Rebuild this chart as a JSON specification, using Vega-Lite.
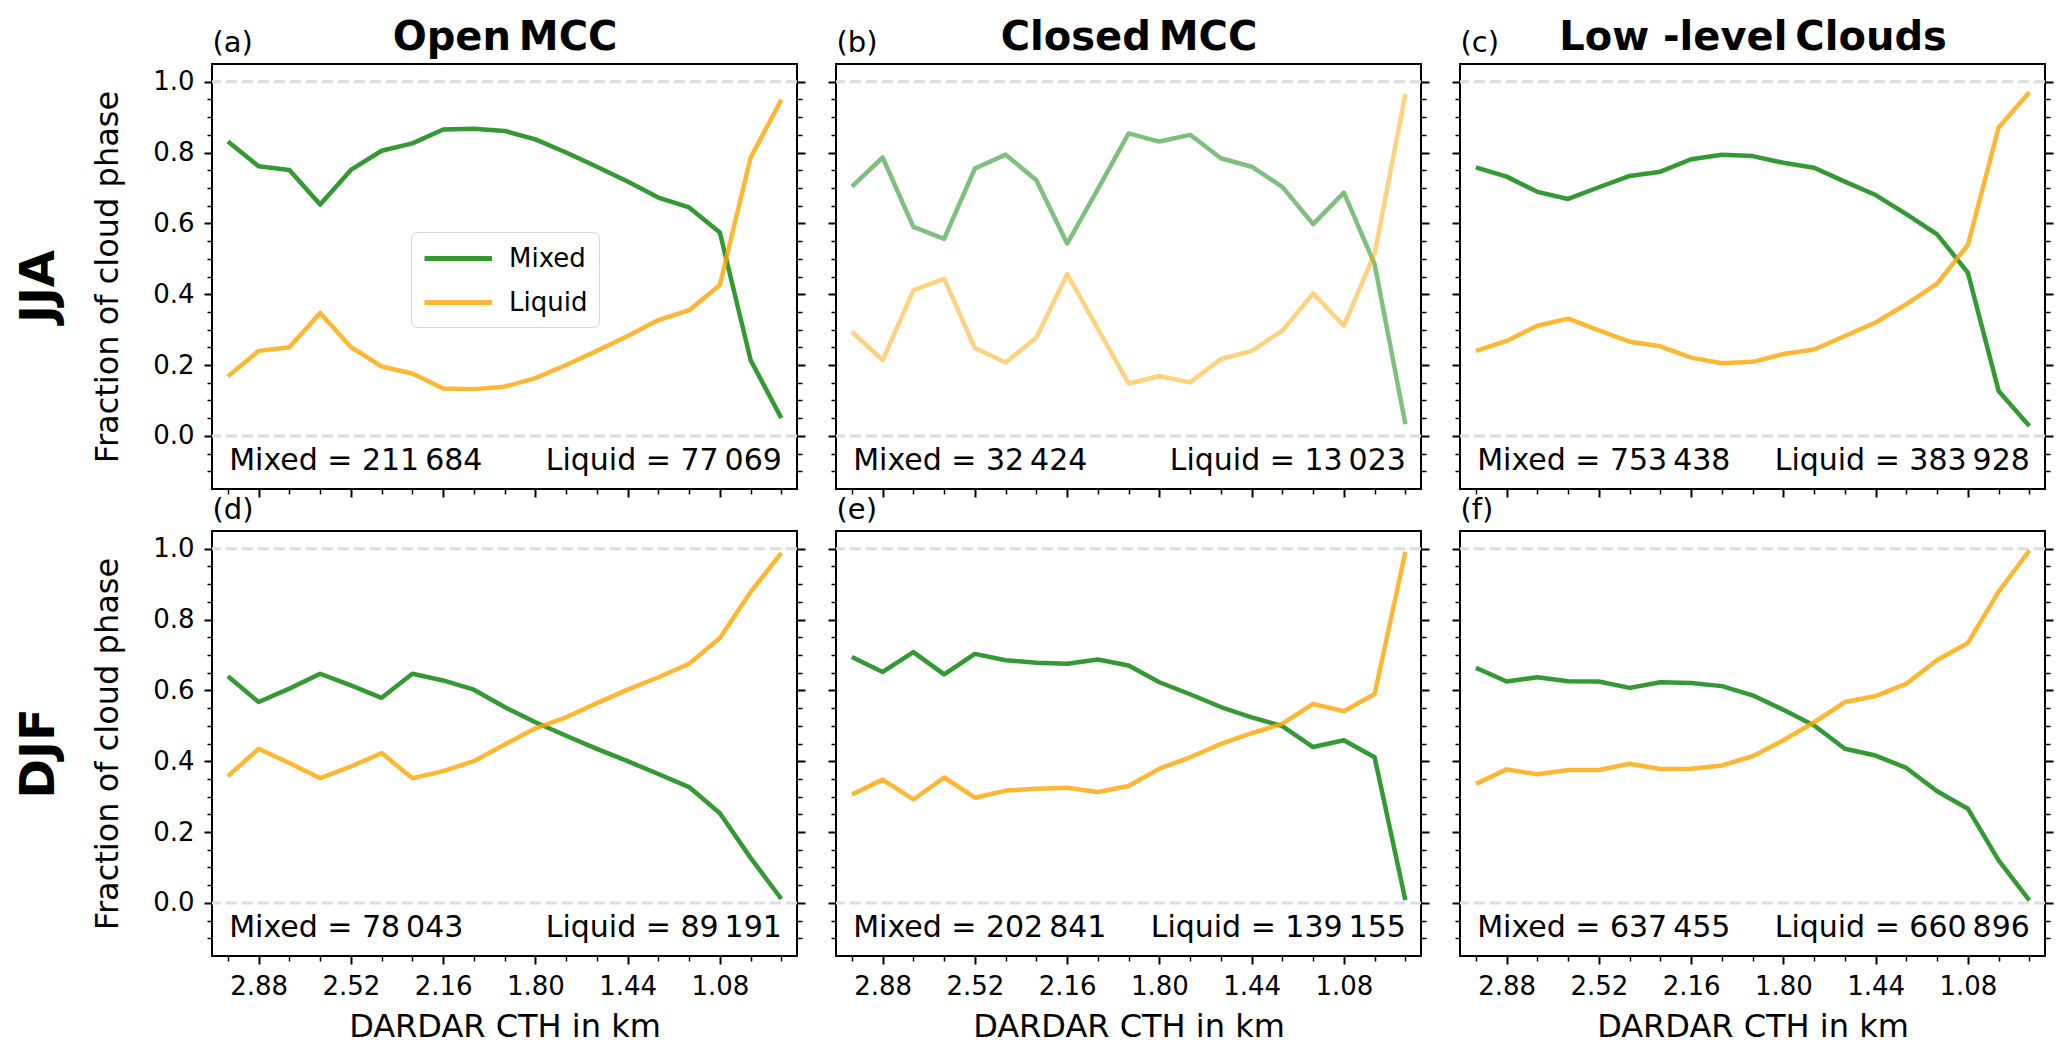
{
  "$schema": "https://vega.github.io/schema/vega-lite/v6.json",
  "background": "white",
  "padding": {"left": 14, "top": 16, "right": 27, "bottom": 10},
  "datasets": {
    "series": [
      {"panel":"a","phase":"Mixed","cth":3.0,"fraction":0.831},{"panel":"a","phase":"Mixed","cth":2.88,"fraction":0.761},{"panel":"a","phase":"Mixed","cth":2.76,"fraction":0.751},{"panel":"a","phase":"Mixed","cth":2.64,"fraction":0.653},{"panel":"a","phase":"Mixed","cth":2.52,"fraction":0.751},{"panel":"a","phase":"Mixed","cth":2.4,"fraction":0.805},{"panel":"a","phase":"Mixed","cth":2.28,"fraction":0.826},{"panel":"a","phase":"Mixed","cth":2.16,"fraction":0.865},{"panel":"a","phase":"Mixed","cth":2.04,"fraction":0.867},{"panel":"a","phase":"Mixed","cth":1.92,"fraction":0.861},{"panel":"a","phase":"Mixed","cth":1.8,"fraction":0.837},{"panel":"a","phase":"Mixed","cth":1.68,"fraction":0.8},{"panel":"a","phase":"Mixed","cth":1.56,"fraction":0.76},{"panel":"a","phase":"Mixed","cth":1.44,"fraction":0.718},{"panel":"a","phase":"Mixed","cth":1.32,"fraction":0.673},{"panel":"a","phase":"Mixed","cth":1.2,"fraction":0.645},{"panel":"a","phase":"Mixed","cth":1.08,"fraction":0.574},{"panel":"a","phase":"Mixed","cth":0.96,"fraction":0.214},{"panel":"a","phase":"Mixed","cth":0.84,"fraction":0.05},
      {"panel":"a","phase":"Liquid","cth":3.0,"fraction":0.168},{"panel":"a","phase":"Liquid","cth":2.88,"fraction":0.24},{"panel":"a","phase":"Liquid","cth":2.76,"fraction":0.25},{"panel":"a","phase":"Liquid","cth":2.64,"fraction":0.347},{"panel":"a","phase":"Liquid","cth":2.52,"fraction":0.251},{"panel":"a","phase":"Liquid","cth":2.4,"fraction":0.196},{"panel":"a","phase":"Liquid","cth":2.28,"fraction":0.176},{"panel":"a","phase":"Liquid","cth":2.16,"fraction":0.134},{"panel":"a","phase":"Liquid","cth":2.04,"fraction":0.132},{"panel":"a","phase":"Liquid","cth":1.92,"fraction":0.139},{"panel":"a","phase":"Liquid","cth":1.8,"fraction":0.163},{"panel":"a","phase":"Liquid","cth":1.68,"fraction":0.2},{"panel":"a","phase":"Liquid","cth":1.56,"fraction":0.24},{"panel":"a","phase":"Liquid","cth":1.44,"fraction":0.282},{"panel":"a","phase":"Liquid","cth":1.32,"fraction":0.327},{"panel":"a","phase":"Liquid","cth":1.2,"fraction":0.355},{"panel":"a","phase":"Liquid","cth":1.08,"fraction":0.426},{"panel":"a","phase":"Liquid","cth":0.96,"fraction":0.786},{"panel":"a","phase":"Liquid","cth":0.84,"fraction":0.949},
      {"panel":"b","phase":"Mixed","cth":3.0,"fraction":0.704},{"panel":"b","phase":"Mixed","cth":2.88,"fraction":0.786},{"panel":"b","phase":"Mixed","cth":2.76,"fraction":0.59},{"panel":"b","phase":"Mixed","cth":2.64,"fraction":0.556},{"panel":"b","phase":"Mixed","cth":2.52,"fraction":0.755},{"panel":"b","phase":"Mixed","cth":2.4,"fraction":0.794},{"panel":"b","phase":"Mixed","cth":2.28,"fraction":0.722},{"panel":"b","phase":"Mixed","cth":2.16,"fraction":0.543},{"panel":"b","phase":"Mixed","cth":2.04,"fraction":0.697},{"panel":"b","phase":"Mixed","cth":1.92,"fraction":0.854},{"panel":"b","phase":"Mixed","cth":1.8,"fraction":0.831},{"panel":"b","phase":"Mixed","cth":1.68,"fraction":0.85},{"panel":"b","phase":"Mixed","cth":1.56,"fraction":0.784},{"panel":"b","phase":"Mixed","cth":1.44,"fraction":0.76},{"panel":"b","phase":"Mixed","cth":1.32,"fraction":0.703},{"panel":"b","phase":"Mixed","cth":1.2,"fraction":0.598},{"panel":"b","phase":"Mixed","cth":1.08,"fraction":0.687},{"panel":"b","phase":"Mixed","cth":0.96,"fraction":0.485},{"panel":"b","phase":"Mixed","cth":0.84,"fraction":0.033},
      {"panel":"b","phase":"Liquid","cth":3.0,"fraction":0.294},{"panel":"b","phase":"Liquid","cth":2.88,"fraction":0.214},{"panel":"b","phase":"Liquid","cth":2.76,"fraction":0.411},{"panel":"b","phase":"Liquid","cth":2.64,"fraction":0.444},{"panel":"b","phase":"Liquid","cth":2.52,"fraction":0.248},{"panel":"b","phase":"Liquid","cth":2.4,"fraction":0.207},{"panel":"b","phase":"Liquid","cth":2.28,"fraction":0.278},{"panel":"b","phase":"Liquid","cth":2.16,"fraction":0.457},{"panel":"b","phase":"Liquid","cth":2.04,"fraction":0.302},{"panel":"b","phase":"Liquid","cth":1.92,"fraction":0.148},{"panel":"b","phase":"Liquid","cth":1.8,"fraction":0.169},{"panel":"b","phase":"Liquid","cth":1.68,"fraction":0.151},{"panel":"b","phase":"Liquid","cth":1.56,"fraction":0.217},{"panel":"b","phase":"Liquid","cth":1.44,"fraction":0.24},{"panel":"b","phase":"Liquid","cth":1.32,"fraction":0.297},{"panel":"b","phase":"Liquid","cth":1.2,"fraction":0.402},{"panel":"b","phase":"Liquid","cth":1.08,"fraction":0.311},{"panel":"b","phase":"Liquid","cth":0.96,"fraction":0.515},{"panel":"b","phase":"Liquid","cth":0.84,"fraction":0.965},
      {"panel":"c","phase":"Mixed","cth":3.0,"fraction":0.758},{"panel":"c","phase":"Mixed","cth":2.88,"fraction":0.732},{"panel":"c","phase":"Mixed","cth":2.76,"fraction":0.689},{"panel":"c","phase":"Mixed","cth":2.64,"fraction":0.669},{"panel":"c","phase":"Mixed","cth":2.52,"fraction":0.702},{"panel":"c","phase":"Mixed","cth":2.4,"fraction":0.734},{"panel":"c","phase":"Mixed","cth":2.28,"fraction":0.746},{"panel":"c","phase":"Mixed","cth":2.16,"fraction":0.781},{"panel":"c","phase":"Mixed","cth":2.04,"fraction":0.794},{"panel":"c","phase":"Mixed","cth":1.92,"fraction":0.79},{"panel":"c","phase":"Mixed","cth":1.8,"fraction":0.771},{"panel":"c","phase":"Mixed","cth":1.68,"fraction":0.757},{"panel":"c","phase":"Mixed","cth":1.56,"fraction":0.718},{"panel":"c","phase":"Mixed","cth":1.44,"fraction":0.68},{"panel":"c","phase":"Mixed","cth":1.32,"fraction":0.626},{"panel":"c","phase":"Mixed","cth":1.2,"fraction":0.569},{"panel":"c","phase":"Mixed","cth":1.08,"fraction":0.461},{"panel":"c","phase":"Mixed","cth":0.96,"fraction":0.127},{"panel":"c","phase":"Mixed","cth":0.84,"fraction":0.028},
      {"panel":"c","phase":"Liquid","cth":3.0,"fraction":0.24},{"panel":"c","phase":"Liquid","cth":2.88,"fraction":0.268},{"panel":"c","phase":"Liquid","cth":2.76,"fraction":0.311},{"panel":"c","phase":"Liquid","cth":2.64,"fraction":0.331},{"panel":"c","phase":"Liquid","cth":2.52,"fraction":0.298},{"panel":"c","phase":"Liquid","cth":2.4,"fraction":0.266},{"panel":"c","phase":"Liquid","cth":2.28,"fraction":0.253},{"panel":"c","phase":"Liquid","cth":2.16,"fraction":0.221},{"panel":"c","phase":"Liquid","cth":2.04,"fraction":0.205},{"panel":"c","phase":"Liquid","cth":1.92,"fraction":0.209},{"panel":"c","phase":"Liquid","cth":1.8,"fraction":0.231},{"panel":"c","phase":"Liquid","cth":1.68,"fraction":0.244},{"panel":"c","phase":"Liquid","cth":1.56,"fraction":0.282},{"panel":"c","phase":"Liquid","cth":1.44,"fraction":0.32},{"panel":"c","phase":"Liquid","cth":1.32,"fraction":0.372},{"panel":"c","phase":"Liquid","cth":1.2,"fraction":0.43},{"panel":"c","phase":"Liquid","cth":1.08,"fraction":0.539},{"panel":"c","phase":"Liquid","cth":0.96,"fraction":0.871},{"panel":"c","phase":"Liquid","cth":0.84,"fraction":0.97},
      {"panel":"d","phase":"Mixed","cth":3.0,"fraction":0.64},{"panel":"d","phase":"Mixed","cth":2.88,"fraction":0.567},{"panel":"d","phase":"Mixed","cth":2.76,"fraction":0.605},{"panel":"d","phase":"Mixed","cth":2.64,"fraction":0.647},{"panel":"d","phase":"Mixed","cth":2.52,"fraction":0.614},{"panel":"d","phase":"Mixed","cth":2.4,"fraction":0.579},{"panel":"d","phase":"Mixed","cth":2.28,"fraction":0.647},{"panel":"d","phase":"Mixed","cth":2.16,"fraction":0.628},{"panel":"d","phase":"Mixed","cth":2.04,"fraction":0.602},{"panel":"d","phase":"Mixed","cth":1.92,"fraction":0.553},{"panel":"d","phase":"Mixed","cth":1.8,"fraction":0.51},{"panel":"d","phase":"Mixed","cth":1.68,"fraction":0.472},{"panel":"d","phase":"Mixed","cth":1.56,"fraction":0.435},{"panel":"d","phase":"Mixed","cth":1.44,"fraction":0.4},{"panel":"d","phase":"Mixed","cth":1.32,"fraction":0.364},{"panel":"d","phase":"Mixed","cth":1.2,"fraction":0.327},{"panel":"d","phase":"Mixed","cth":1.08,"fraction":0.253},{"panel":"d","phase":"Mixed","cth":0.96,"fraction":0.127},{"panel":"d","phase":"Mixed","cth":0.84,"fraction":0.011},
      {"panel":"d","phase":"Liquid","cth":3.0,"fraction":0.358},{"panel":"d","phase":"Liquid","cth":2.88,"fraction":0.435},{"panel":"d","phase":"Liquid","cth":2.76,"fraction":0.395},{"panel":"d","phase":"Liquid","cth":2.64,"fraction":0.352},{"panel":"d","phase":"Liquid","cth":2.52,"fraction":0.385},{"panel":"d","phase":"Liquid","cth":2.4,"fraction":0.423},{"panel":"d","phase":"Liquid","cth":2.28,"fraction":0.352},{"panel":"d","phase":"Liquid","cth":2.16,"fraction":0.372},{"panel":"d","phase":"Liquid","cth":2.04,"fraction":0.4},{"panel":"d","phase":"Liquid","cth":1.92,"fraction":0.447},{"panel":"d","phase":"Liquid","cth":1.8,"fraction":0.493},{"panel":"d","phase":"Liquid","cth":1.68,"fraction":0.524},{"panel":"d","phase":"Liquid","cth":1.56,"fraction":0.564},{"panel":"d","phase":"Liquid","cth":1.44,"fraction":0.602},{"panel":"d","phase":"Liquid","cth":1.32,"fraction":0.637},{"panel":"d","phase":"Liquid","cth":1.2,"fraction":0.675},{"panel":"d","phase":"Liquid","cth":1.08,"fraction":0.748},{"panel":"d","phase":"Liquid","cth":0.96,"fraction":0.878},{"panel":"d","phase":"Liquid","cth":0.84,"fraction":0.988},
      {"panel":"e","phase":"Mixed","cth":3.0,"fraction":0.694},{"panel":"e","phase":"Mixed","cth":2.88,"fraction":0.652},{"panel":"e","phase":"Mixed","cth":2.76,"fraction":0.708},{"panel":"e","phase":"Mixed","cth":2.64,"fraction":0.645},{"panel":"e","phase":"Mixed","cth":2.52,"fraction":0.703},{"panel":"e","phase":"Mixed","cth":2.4,"fraction":0.685},{"panel":"e","phase":"Mixed","cth":2.28,"fraction":0.678},{"panel":"e","phase":"Mixed","cth":2.16,"fraction":0.675},{"panel":"e","phase":"Mixed","cth":2.04,"fraction":0.687},{"panel":"e","phase":"Mixed","cth":1.92,"fraction":0.67},{"panel":"e","phase":"Mixed","cth":1.8,"fraction":0.623},{"panel":"e","phase":"Mixed","cth":1.68,"fraction":0.589},{"panel":"e","phase":"Mixed","cth":1.56,"fraction":0.553},{"panel":"e","phase":"Mixed","cth":1.44,"fraction":0.524},{"panel":"e","phase":"Mixed","cth":1.32,"fraction":0.499},{"panel":"e","phase":"Mixed","cth":1.2,"fraction":0.44},{"panel":"e","phase":"Mixed","cth":1.08,"fraction":0.459},{"panel":"e","phase":"Mixed","cth":0.96,"fraction":0.411},{"panel":"e","phase":"Mixed","cth":0.84,"fraction":0.008},
      {"panel":"e","phase":"Liquid","cth":3.0,"fraction":0.306},{"panel":"e","phase":"Liquid","cth":2.88,"fraction":0.348},{"panel":"e","phase":"Liquid","cth":2.76,"fraction":0.292},{"panel":"e","phase":"Liquid","cth":2.64,"fraction":0.354},{"panel":"e","phase":"Liquid","cth":2.52,"fraction":0.297},{"panel":"e","phase":"Liquid","cth":2.4,"fraction":0.317},{"panel":"e","phase":"Liquid","cth":2.28,"fraction":0.322},{"panel":"e","phase":"Liquid","cth":2.16,"fraction":0.325},{"panel":"e","phase":"Liquid","cth":2.04,"fraction":0.313},{"panel":"e","phase":"Liquid","cth":1.92,"fraction":0.33},{"panel":"e","phase":"Liquid","cth":1.8,"fraction":0.379},{"panel":"e","phase":"Liquid","cth":1.68,"fraction":0.411},{"panel":"e","phase":"Liquid","cth":1.56,"fraction":0.449},{"panel":"e","phase":"Liquid","cth":1.44,"fraction":0.479},{"panel":"e","phase":"Liquid","cth":1.32,"fraction":0.506},{"panel":"e","phase":"Liquid","cth":1.2,"fraction":0.562},{"panel":"e","phase":"Liquid","cth":1.08,"fraction":0.541},{"panel":"e","phase":"Liquid","cth":0.96,"fraction":0.59},{"panel":"e","phase":"Liquid","cth":0.84,"fraction":0.991},
      {"panel":"f","phase":"Mixed","cth":3.0,"fraction":0.664},{"panel":"f","phase":"Mixed","cth":2.88,"fraction":0.625},{"panel":"f","phase":"Mixed","cth":2.76,"fraction":0.637},{"panel":"f","phase":"Mixed","cth":2.64,"fraction":0.626},{"panel":"f","phase":"Mixed","cth":2.52,"fraction":0.625},{"panel":"f","phase":"Mixed","cth":2.4,"fraction":0.607},{"panel":"f","phase":"Mixed","cth":2.28,"fraction":0.623},{"panel":"f","phase":"Mixed","cth":2.16,"fraction":0.621},{"panel":"f","phase":"Mixed","cth":2.04,"fraction":0.612},{"panel":"f","phase":"Mixed","cth":1.92,"fraction":0.586},{"panel":"f","phase":"Mixed","cth":1.8,"fraction":0.545},{"panel":"f","phase":"Mixed","cth":1.68,"fraction":0.501},{"panel":"f","phase":"Mixed","cth":1.56,"fraction":0.435},{"panel":"f","phase":"Mixed","cth":1.44,"fraction":0.416},{"panel":"f","phase":"Mixed","cth":1.32,"fraction":0.381},{"panel":"f","phase":"Mixed","cth":1.2,"fraction":0.315},{"panel":"f","phase":"Mixed","cth":1.08,"fraction":0.266},{"panel":"f","phase":"Mixed","cth":0.96,"fraction":0.12},{"panel":"f","phase":"Mixed","cth":0.84,"fraction":0.007},
      {"panel":"f","phase":"Liquid","cth":3.0,"fraction":0.336},{"panel":"f","phase":"Liquid","cth":2.88,"fraction":0.377},{"panel":"f","phase":"Liquid","cth":2.76,"fraction":0.363},{"panel":"f","phase":"Liquid","cth":2.64,"fraction":0.375},{"panel":"f","phase":"Liquid","cth":2.52,"fraction":0.375},{"panel":"f","phase":"Liquid","cth":2.4,"fraction":0.393},{"panel":"f","phase":"Liquid","cth":2.28,"fraction":0.378},{"panel":"f","phase":"Liquid","cth":2.16,"fraction":0.379},{"panel":"f","phase":"Liquid","cth":2.04,"fraction":0.388},{"panel":"f","phase":"Liquid","cth":1.92,"fraction":0.414},{"panel":"f","phase":"Liquid","cth":1.8,"fraction":0.459},{"panel":"f","phase":"Liquid","cth":1.68,"fraction":0.51},{"panel":"f","phase":"Liquid","cth":1.56,"fraction":0.567},{"panel":"f","phase":"Liquid","cth":1.44,"fraction":0.584},{"panel":"f","phase":"Liquid","cth":1.32,"fraction":0.619},{"panel":"f","phase":"Liquid","cth":1.2,"fraction":0.686},{"panel":"f","phase":"Liquid","cth":1.08,"fraction":0.734},{"panel":"f","phase":"Liquid","cth":0.96,"fraction":0.879},{"panel":"f","phase":"Liquid","cth":0.84,"fraction":0.995}
    ],
    "counts": [
      {"panel":"a","mixed":"Mixed = 211\u2009684","liquid":"Liquid = 77\u2009069"},
      {"panel":"b","mixed":"Mixed = 32\u2009424","liquid":"Liquid = 13\u2009023"},
      {"panel":"c","mixed":"Mixed = 753\u2009438","liquid":"Liquid = 383\u2009928"},
      {"panel":"d","mixed":"Mixed = 78\u2009043","liquid":"Liquid = 89\u2009191"},
      {"panel":"e","mixed":"Mixed = 202\u2009841","liquid":"Liquid = 139\u2009155"},
      {"panel":"f","mixed":"Mixed = 637\u2009455","liquid":"Liquid = 660\u2009896"}
    ],
    "refs": [{"ref": 0}, {"ref": 1}]
  },
  "columns": 3,
  "spacing": {"row": 42, "column": 39},
  "bounds": "flush",
  "resolve": {"scale": {"color": "independent"}, "legend": {"color": "independent"}},
  "concat": [
    {
      "width": 585, "height": 425,
      "layer": [
        {"data": {"name": "refs"}, "mark": {"type": "rule", "color": "#dddddd", "strokeWidth": 3, "strokeDash": [11, 5]},
         "encoding": {"y": {"field": "ref", "type": "quantitative", "scale": {"domain": [-0.15, 1.05], "nice": false, "zero": false},
           "axis": {"orient": "left", "values": [0, 0.2, 0.4, 0.6, 0.8, 1], "format": ".1f", "tickSize": 8, "labelPadding": 10, "title": "Fraction of cloud phase", "titleFontSize": 32, "titlePadding": 28}}}},
        {"data": {"name": "series"}, "transform": [{"filter": "datum.panel === 'a'"}],
         "mark": {"type": "line", "strokeWidth": 4.5, "opacity": 0.8, "strokeJoin": "round"},
         "encoding": {
           "x": {"field": "cth", "type": "quantitative", "scale": {"domain": [3.062, 0.779], "nice": false, "zero": false},
             "axis": {"orient": "bottom", "values": [2.88, 2.52, 2.16, 1.8, 1.44, 1.08], "tickSize": 8, "labels": false, "title": null}},
           "y": {"field": "fraction", "type": "quantitative", "scale": {"domain": [-0.15, 1.05], "nice": false, "zero": false},
             "axis": {"orient": "left", "values": [-0.1, -0.05, 0.05, 0.1, 0.15, 0.25, 0.3, 0.35, 0.45, 0.5, 0.55, 0.65, 0.7, 0.75, 0.85, 0.9, 0.95], "tickSize": 5, "tickWidth": 1.5, "labels": false, "title": "JJA", "titleFontSize": 48, "titleFontWeight": "bold", "titlePadding": 143, "titleY": 222}},
           "color": {"field": "phase", "type": "nominal", "scale": {"domain": ["Mixed", "Liquid"], "range": ["#008000", "#ffa500"]},
             "legend": {"orient": "none", "legendX": 199, "legendY": 168, "title": null, "labelFontSize": 26, "labelFont": "DejaVu Sans", "labelColor": "black", "symbolType": "M-1,0H4.2", "symbolSize": 676, "symbolStrokeWidth": 5, "labelOffset": 56, "padding": 11, "rowPadding": 15, "strokeColor": "#d6d6d6", "fillColor": "white", "cornerRadius": 6}}
         }},
        {"data": {"name": "series"}, "transform": [{"filter": "datum.panel === 'a'"}], "mark": {"type": "point", "opacity": 0},
         "encoding": {
           "x": {"field": "cth", "type": "quantitative", "axis": {"orient": "bottom", "values": [3.0, 2.76, 2.64, 2.4, 2.28, 2.04, 1.92, 1.68, 1.56, 1.32, 1.2, 0.96, 0.84], "tickSize": 5, "tickWidth": 1.5, "labels": false, "title": null}},
           "y": {"field": "fraction", "type": "quantitative", "axis": {"orient": "right", "values": [0, 0.2, 0.4, 0.6, 0.8, 1], "tickSize": 8, "labels": false, "title": null}}}},
        {"data": {"name": "series"}, "transform": [{"filter": "datum.panel === 'a'"}], "mark": {"type": "point", "opacity": 0},
         "encoding": {
           "x": {"field": "cth", "type": "quantitative", "axis": {"orient": "top", "ticks": false, "labels": false, "title": "(a)", "titleFontSize": 29, "titleAnchor": "start", "titleAlign": "left", "titleBaseline": "alphabetic", "titlePadding": 13}},
           "y": {"field": "fraction", "type": "quantitative", "axis": {"orient": "right", "values": [-0.1, -0.05, 0.05, 0.1, 0.15, 0.25, 0.3, 0.35, 0.45, 0.5, 0.55, 0.65, 0.7, 0.75, 0.85, 0.9, 0.95], "tickSize": 5, "tickWidth": 1.5, "labels": false, "title": null}}}},
        {"data": {"name": "series"}, "transform": [{"filter": "datum.panel === 'a'"}], "mark": {"type": "point", "opacity": 0},
         "encoding": {
           "x": {"field": "cth", "type": "quantitative", "axis": {"orient": "top", "ticks": false, "labels": false, "title": "Open\u2009MCC", "titleFontSize": 40, "titleFontWeight": "bold", "titleBaseline": "alphabetic", "titlePadding": 15}},
           "y": {"field": "fraction", "type": "quantitative", "axis": null}}},
        {"data": {"name": "counts"}, "transform": [{"filter": "datum.panel === 'a'"}],
         "mark": {"type": "text", "align": "left", "baseline": "alphabetic", "fontSize": 30, "font": "DejaVu Sans", "color": "black"},
         "encoding": {"x": {"datum": 2.995, "type": "quantitative", "axis": null}, "y": {"datum": -0.097, "type": "quantitative", "axis": null}, "text": {"field": "mixed"}}},
        {"data": {"name": "counts"}, "transform": [{"filter": "datum.panel === 'a'"}],
         "mark": {"type": "text", "align": "right", "baseline": "alphabetic", "fontSize": 30, "font": "DejaVu Sans", "color": "black"},
         "encoding": {"x": {"datum": 0.838, "type": "quantitative", "axis": null}, "y": {"datum": -0.097, "type": "quantitative", "axis": null}, "text": {"field": "liquid"}}}
      ],
      "resolve": {"axis": {"x": "independent", "y": "independent"}}
    },
    {
      "width": 585, "height": 425,
      "layer": [
        {"data": {"name": "refs"}, "mark": {"type": "rule", "color": "#dddddd", "strokeWidth": 3, "strokeDash": [11, 5]},
         "encoding": {"y": {"field": "ref", "type": "quantitative", "scale": {"domain": [-0.15, 1.05], "nice": false, "zero": false},
           "axis": {"orient": "left", "values": [0, 0.2, 0.4, 0.6, 0.8, 1], "tickSize": 8, "labels": false, "title": null}}}},
        {"data": {"name": "series"}, "transform": [{"filter": "datum.panel === 'b'"}],
         "mark": {"type": "line", "strokeWidth": 4.5, "opacity": 0.5, "strokeJoin": "round"},
         "encoding": {
           "x": {"field": "cth", "type": "quantitative", "scale": {"domain": [3.062, 0.779], "nice": false, "zero": false},
             "axis": {"orient": "bottom", "values": [2.88, 2.52, 2.16, 1.8, 1.44, 1.08], "tickSize": 8, "labels": false, "title": null}},
           "y": {"field": "fraction", "type": "quantitative", "scale": {"domain": [-0.15, 1.05], "nice": false, "zero": false},
             "axis": {"orient": "left", "values": [-0.1, -0.05, 0.05, 0.1, 0.15, 0.25, 0.3, 0.35, 0.45, 0.5, 0.55, 0.65, 0.7, 0.75, 0.85, 0.9, 0.95], "tickSize": 5, "tickWidth": 1.5, "labels": false, "title": null}},
           "color": {"field": "phase", "type": "nominal", "scale": {"domain": ["Mixed", "Liquid"], "range": ["#008000", "#ffa500"]}, "legend": null}
         }},
        {"data": {"name": "series"}, "transform": [{"filter": "datum.panel === 'b'"}], "mark": {"type": "point", "opacity": 0},
         "encoding": {
           "x": {"field": "cth", "type": "quantitative", "axis": {"orient": "bottom", "values": [3.0, 2.76, 2.64, 2.4, 2.28, 2.04, 1.92, 1.68, 1.56, 1.32, 1.2, 0.96, 0.84], "tickSize": 5, "tickWidth": 1.5, "labels": false, "title": null}},
           "y": {"field": "fraction", "type": "quantitative", "axis": {"orient": "right", "values": [0, 0.2, 0.4, 0.6, 0.8, 1], "tickSize": 8, "labels": false, "title": null}}}},
        {"data": {"name": "series"}, "transform": [{"filter": "datum.panel === 'b'"}], "mark": {"type": "point", "opacity": 0},
         "encoding": {
           "x": {"field": "cth", "type": "quantitative", "axis": {"orient": "top", "ticks": false, "labels": false, "title": "(b)", "titleFontSize": 29, "titleAnchor": "start", "titleAlign": "left", "titleBaseline": "alphabetic", "titlePadding": 13}},
           "y": {"field": "fraction", "type": "quantitative", "axis": {"orient": "right", "values": [-0.1, -0.05, 0.05, 0.1, 0.15, 0.25, 0.3, 0.35, 0.45, 0.5, 0.55, 0.65, 0.7, 0.75, 0.85, 0.9, 0.95], "tickSize": 5, "tickWidth": 1.5, "labels": false, "title": null}}}},
        {"data": {"name": "series"}, "transform": [{"filter": "datum.panel === 'b'"}], "mark": {"type": "point", "opacity": 0},
         "encoding": {
           "x": {"field": "cth", "type": "quantitative", "axis": {"orient": "top", "ticks": false, "labels": false, "title": "Closed\u2009MCC", "titleFontSize": 40, "titleFontWeight": "bold", "titleBaseline": "alphabetic", "titlePadding": 15}},
           "y": {"field": "fraction", "type": "quantitative", "axis": null}}},
        {"data": {"name": "counts"}, "transform": [{"filter": "datum.panel === 'b'"}],
         "mark": {"type": "text", "align": "left", "baseline": "alphabetic", "fontSize": 30, "font": "DejaVu Sans", "color": "black"},
         "encoding": {"x": {"datum": 2.995, "type": "quantitative", "axis": null}, "y": {"datum": -0.097, "type": "quantitative", "axis": null}, "text": {"field": "mixed"}}},
        {"data": {"name": "counts"}, "transform": [{"filter": "datum.panel === 'b'"}],
         "mark": {"type": "text", "align": "right", "baseline": "alphabetic", "fontSize": 30, "font": "DejaVu Sans", "color": "black"},
         "encoding": {"x": {"datum": 0.838, "type": "quantitative", "axis": null}, "y": {"datum": -0.097, "type": "quantitative", "axis": null}, "text": {"field": "liquid"}}}
      ],
      "resolve": {"axis": {"x": "independent", "y": "independent"}}
    },
    {
      "width": 585, "height": 425,
      "layer": [
        {"data": {"name": "refs"}, "mark": {"type": "rule", "color": "#dddddd", "strokeWidth": 3, "strokeDash": [11, 5]},
         "encoding": {"y": {"field": "ref", "type": "quantitative", "scale": {"domain": [-0.15, 1.05], "nice": false, "zero": false},
           "axis": {"orient": "left", "values": [0, 0.2, 0.4, 0.6, 0.8, 1], "tickSize": 8, "labels": false, "title": null}}}},
        {"data": {"name": "series"}, "transform": [{"filter": "datum.panel === 'c'"}],
         "mark": {"type": "line", "strokeWidth": 4.5, "opacity": 0.8, "strokeJoin": "round"},
         "encoding": {
           "x": {"field": "cth", "type": "quantitative", "scale": {"domain": [3.062, 0.779], "nice": false, "zero": false},
             "axis": {"orient": "bottom", "values": [2.88, 2.52, 2.16, 1.8, 1.44, 1.08], "tickSize": 8, "labels": false, "title": null}},
           "y": {"field": "fraction", "type": "quantitative", "scale": {"domain": [-0.15, 1.05], "nice": false, "zero": false},
             "axis": {"orient": "left", "values": [-0.1, -0.05, 0.05, 0.1, 0.15, 0.25, 0.3, 0.35, 0.45, 0.5, 0.55, 0.65, 0.7, 0.75, 0.85, 0.9, 0.95], "tickSize": 5, "tickWidth": 1.5, "labels": false, "title": null}},
           "color": {"field": "phase", "type": "nominal", "scale": {"domain": ["Mixed", "Liquid"], "range": ["#008000", "#ffa500"]}, "legend": null}
         }},
        {"data": {"name": "series"}, "transform": [{"filter": "datum.panel === 'c'"}], "mark": {"type": "point", "opacity": 0},
         "encoding": {
           "x": {"field": "cth", "type": "quantitative", "axis": {"orient": "bottom", "values": [3.0, 2.76, 2.64, 2.4, 2.28, 2.04, 1.92, 1.68, 1.56, 1.32, 1.2, 0.96, 0.84], "tickSize": 5, "tickWidth": 1.5, "labels": false, "title": null}},
           "y": {"field": "fraction", "type": "quantitative", "axis": {"orient": "right", "values": [0, 0.2, 0.4, 0.6, 0.8, 1], "tickSize": 8, "labels": false, "title": null}}}},
        {"data": {"name": "series"}, "transform": [{"filter": "datum.panel === 'c'"}], "mark": {"type": "point", "opacity": 0},
         "encoding": {
           "x": {"field": "cth", "type": "quantitative", "axis": {"orient": "top", "ticks": false, "labels": false, "title": "(c)", "titleFontSize": 29, "titleAnchor": "start", "titleAlign": "left", "titleBaseline": "alphabetic", "titlePadding": 13}},
           "y": {"field": "fraction", "type": "quantitative", "axis": {"orient": "right", "values": [-0.1, -0.05, 0.05, 0.1, 0.15, 0.25, 0.3, 0.35, 0.45, 0.5, 0.55, 0.65, 0.7, 0.75, 0.85, 0.9, 0.95], "tickSize": 5, "tickWidth": 1.5, "labels": false, "title": null}}}},
        {"data": {"name": "series"}, "transform": [{"filter": "datum.panel === 'c'"}], "mark": {"type": "point", "opacity": 0},
         "encoding": {
           "x": {"field": "cth", "type": "quantitative", "axis": {"orient": "top", "ticks": false, "labels": false, "title": "Low -level\u2009Clouds", "titleFontSize": 40, "titleFontWeight": "bold", "titleBaseline": "alphabetic", "titlePadding": 15}},
           "y": {"field": "fraction", "type": "quantitative", "axis": null}}},
        {"data": {"name": "counts"}, "transform": [{"filter": "datum.panel === 'c'"}],
         "mark": {"type": "text", "align": "left", "baseline": "alphabetic", "fontSize": 30, "font": "DejaVu Sans", "color": "black"},
         "encoding": {"x": {"datum": 2.995, "type": "quantitative", "axis": null}, "y": {"datum": -0.097, "type": "quantitative", "axis": null}, "text": {"field": "mixed"}}},
        {"data": {"name": "counts"}, "transform": [{"filter": "datum.panel === 'c'"}],
         "mark": {"type": "text", "align": "right", "baseline": "alphabetic", "fontSize": 30, "font": "DejaVu Sans", "color": "black"},
         "encoding": {"x": {"datum": 0.838, "type": "quantitative", "axis": null}, "y": {"datum": -0.097, "type": "quantitative", "axis": null}, "text": {"field": "liquid"}}}
      ],
      "resolve": {"axis": {"x": "independent", "y": "independent"}}
    },
    {
      "width": 585, "height": 425,
      "layer": [
        {"data": {"name": "refs"}, "mark": {"type": "rule", "color": "#dddddd", "strokeWidth": 3, "strokeDash": [11, 5]},
         "encoding": {"y": {"field": "ref", "type": "quantitative", "scale": {"domain": [-0.15, 1.05], "nice": false, "zero": false},
           "axis": {"orient": "left", "values": [0, 0.2, 0.4, 0.6, 0.8, 1], "format": ".1f", "tickSize": 8, "labelPadding": 10, "title": "Fraction of cloud phase", "titleFontSize": 32, "titlePadding": 28}}}},
        {"data": {"name": "series"}, "transform": [{"filter": "datum.panel === 'd'"}],
         "mark": {"type": "line", "strokeWidth": 4.5, "opacity": 0.8, "strokeJoin": "round"},
         "encoding": {
           "x": {"field": "cth", "type": "quantitative", "scale": {"domain": [3.062, 0.779], "nice": false, "zero": false},
             "axis": {"orient": "bottom", "values": [2.88, 2.52, 2.16, 1.8, 1.44, 1.08], "format": ".2f", "tickSize": 8, "labelPadding": 9, "title": "DARDAR CTH in km", "titleFontSize": 32, "titlePadding": 12}},
           "y": {"field": "fraction", "type": "quantitative", "scale": {"domain": [-0.15, 1.05], "nice": false, "zero": false},
             "axis": {"orient": "left", "values": [-0.1, -0.05, 0.05, 0.1, 0.15, 0.25, 0.3, 0.35, 0.45, 0.5, 0.55, 0.65, 0.7, 0.75, 0.85, 0.9, 0.95], "tickSize": 5, "tickWidth": 1.5, "labels": false, "title": "DJF", "titleFontSize": 48, "titleFontWeight": "bold", "titlePadding": 143, "titleY": 222}},
           "color": {"field": "phase", "type": "nominal", "scale": {"domain": ["Mixed", "Liquid"], "range": ["#008000", "#ffa500"]}, "legend": null}
         }},
        {"data": {"name": "series"}, "transform": [{"filter": "datum.panel === 'd'"}], "mark": {"type": "point", "opacity": 0},
         "encoding": {
           "x": {"field": "cth", "type": "quantitative", "axis": {"orient": "bottom", "values": [3.0, 2.76, 2.64, 2.4, 2.28, 2.04, 1.92, 1.68, 1.56, 1.32, 1.2, 0.96, 0.84], "tickSize": 5, "tickWidth": 1.5, "labels": false, "title": null}},
           "y": {"field": "fraction", "type": "quantitative", "axis": {"orient": "right", "values": [0, 0.2, 0.4, 0.6, 0.8, 1], "tickSize": 8, "labels": false, "title": null}}}},
        {"data": {"name": "series"}, "transform": [{"filter": "datum.panel === 'd'"}], "mark": {"type": "point", "opacity": 0},
         "encoding": {
           "x": {"field": "cth", "type": "quantitative", "axis": {"orient": "top", "ticks": false, "labels": false, "title": "(d)", "titleFontSize": 29, "titleAnchor": "start", "titleAlign": "left", "titleBaseline": "alphabetic", "titlePadding": 13}},
           "y": {"field": "fraction", "type": "quantitative", "axis": {"orient": "right", "values": [-0.1, -0.05, 0.05, 0.1, 0.15, 0.25, 0.3, 0.35, 0.45, 0.5, 0.55, 0.65, 0.7, 0.75, 0.85, 0.9, 0.95], "tickSize": 5, "tickWidth": 1.5, "labels": false, "title": null}}}},
        {"data": {"name": "counts"}, "transform": [{"filter": "datum.panel === 'd'"}],
         "mark": {"type": "text", "align": "left", "baseline": "alphabetic", "fontSize": 30, "font": "DejaVu Sans", "color": "black"},
         "encoding": {"x": {"datum": 2.995, "type": "quantitative", "axis": null}, "y": {"datum": -0.097, "type": "quantitative", "axis": null}, "text": {"field": "mixed"}}},
        {"data": {"name": "counts"}, "transform": [{"filter": "datum.panel === 'd'"}],
         "mark": {"type": "text", "align": "right", "baseline": "alphabetic", "fontSize": 30, "font": "DejaVu Sans", "color": "black"},
         "encoding": {"x": {"datum": 0.838, "type": "quantitative", "axis": null}, "y": {"datum": -0.097, "type": "quantitative", "axis": null}, "text": {"field": "liquid"}}}
      ],
      "resolve": {"axis": {"x": "independent", "y": "independent"}}
    },
    {
      "width": 585, "height": 425,
      "layer": [
        {"data": {"name": "refs"}, "mark": {"type": "rule", "color": "#dddddd", "strokeWidth": 3, "strokeDash": [11, 5]},
         "encoding": {"y": {"field": "ref", "type": "quantitative", "scale": {"domain": [-0.15, 1.05], "nice": false, "zero": false},
           "axis": {"orient": "left", "values": [0, 0.2, 0.4, 0.6, 0.8, 1], "tickSize": 8, "labels": false, "title": null}}}},
        {"data": {"name": "series"}, "transform": [{"filter": "datum.panel === 'e'"}],
         "mark": {"type": "line", "strokeWidth": 4.5, "opacity": 0.8, "strokeJoin": "round"},
         "encoding": {
           "x": {"field": "cth", "type": "quantitative", "scale": {"domain": [3.062, 0.779], "nice": false, "zero": false},
             "axis": {"orient": "bottom", "values": [2.88, 2.52, 2.16, 1.8, 1.44, 1.08], "format": ".2f", "tickSize": 8, "labelPadding": 9, "title": "DARDAR CTH in km", "titleFontSize": 32, "titlePadding": 12}},
           "y": {"field": "fraction", "type": "quantitative", "scale": {"domain": [-0.15, 1.05], "nice": false, "zero": false},
             "axis": {"orient": "left", "values": [-0.1, -0.05, 0.05, 0.1, 0.15, 0.25, 0.3, 0.35, 0.45, 0.5, 0.55, 0.65, 0.7, 0.75, 0.85, 0.9, 0.95], "tickSize": 5, "tickWidth": 1.5, "labels": false, "title": null}},
           "color": {"field": "phase", "type": "nominal", "scale": {"domain": ["Mixed", "Liquid"], "range": ["#008000", "#ffa500"]}, "legend": null}
         }},
        {"data": {"name": "series"}, "transform": [{"filter": "datum.panel === 'e'"}], "mark": {"type": "point", "opacity": 0},
         "encoding": {
           "x": {"field": "cth", "type": "quantitative", "axis": {"orient": "bottom", "values": [3.0, 2.76, 2.64, 2.4, 2.28, 2.04, 1.92, 1.68, 1.56, 1.32, 1.2, 0.96, 0.84], "tickSize": 5, "tickWidth": 1.5, "labels": false, "title": null}},
           "y": {"field": "fraction", "type": "quantitative", "axis": {"orient": "right", "values": [0, 0.2, 0.4, 0.6, 0.8, 1], "tickSize": 8, "labels": false, "title": null}}}},
        {"data": {"name": "series"}, "transform": [{"filter": "datum.panel === 'e'"}], "mark": {"type": "point", "opacity": 0},
         "encoding": {
           "x": {"field": "cth", "type": "quantitative", "axis": {"orient": "top", "ticks": false, "labels": false, "title": "(e)", "titleFontSize": 29, "titleAnchor": "start", "titleAlign": "left", "titleBaseline": "alphabetic", "titlePadding": 13}},
           "y": {"field": "fraction", "type": "quantitative", "axis": {"orient": "right", "values": [-0.1, -0.05, 0.05, 0.1, 0.15, 0.25, 0.3, 0.35, 0.45, 0.5, 0.55, 0.65, 0.7, 0.75, 0.85, 0.9, 0.95], "tickSize": 5, "tickWidth": 1.5, "labels": false, "title": null}}}},
        {"data": {"name": "counts"}, "transform": [{"filter": "datum.panel === 'e'"}],
         "mark": {"type": "text", "align": "left", "baseline": "alphabetic", "fontSize": 30, "font": "DejaVu Sans", "color": "black"},
         "encoding": {"x": {"datum": 2.995, "type": "quantitative", "axis": null}, "y": {"datum": -0.097, "type": "quantitative", "axis": null}, "text": {"field": "mixed"}}},
        {"data": {"name": "counts"}, "transform": [{"filter": "datum.panel === 'e'"}],
         "mark": {"type": "text", "align": "right", "baseline": "alphabetic", "fontSize": 30, "font": "DejaVu Sans", "color": "black"},
         "encoding": {"x": {"datum": 0.838, "type": "quantitative", "axis": null}, "y": {"datum": -0.097, "type": "quantitative", "axis": null}, "text": {"field": "liquid"}}}
      ],
      "resolve": {"axis": {"x": "independent", "y": "independent"}}
    },
    {
      "width": 585, "height": 425,
      "layer": [
        {"data": {"name": "refs"}, "mark": {"type": "rule", "color": "#dddddd", "strokeWidth": 3, "strokeDash": [11, 5]},
         "encoding": {"y": {"field": "ref", "type": "quantitative", "scale": {"domain": [-0.15, 1.05], "nice": false, "zero": false},
           "axis": {"orient": "left", "values": [0, 0.2, 0.4, 0.6, 0.8, 1], "tickSize": 8, "labels": false, "title": null}}}},
        {"data": {"name": "series"}, "transform": [{"filter": "datum.panel === 'f'"}],
         "mark": {"type": "line", "strokeWidth": 4.5, "opacity": 0.8, "strokeJoin": "round"},
         "encoding": {
           "x": {"field": "cth", "type": "quantitative", "scale": {"domain": [3.062, 0.779], "nice": false, "zero": false},
             "axis": {"orient": "bottom", "values": [2.88, 2.52, 2.16, 1.8, 1.44, 1.08], "format": ".2f", "tickSize": 8, "labelPadding": 9, "title": "DARDAR CTH in km", "titleFontSize": 32, "titlePadding": 12}},
           "y": {"field": "fraction", "type": "quantitative", "scale": {"domain": [-0.15, 1.05], "nice": false, "zero": false},
             "axis": {"orient": "left", "values": [-0.1, -0.05, 0.05, 0.1, 0.15, 0.25, 0.3, 0.35, 0.45, 0.5, 0.55, 0.65, 0.7, 0.75, 0.85, 0.9, 0.95], "tickSize": 5, "tickWidth": 1.5, "labels": false, "title": null}},
           "color": {"field": "phase", "type": "nominal", "scale": {"domain": ["Mixed", "Liquid"], "range": ["#008000", "#ffa500"]}, "legend": null}
         }},
        {"data": {"name": "series"}, "transform": [{"filter": "datum.panel === 'f'"}], "mark": {"type": "point", "opacity": 0},
         "encoding": {
           "x": {"field": "cth", "type": "quantitative", "axis": {"orient": "bottom", "values": [3.0, 2.76, 2.64, 2.4, 2.28, 2.04, 1.92, 1.68, 1.56, 1.32, 1.2, 0.96, 0.84], "tickSize": 5, "tickWidth": 1.5, "labels": false, "title": null}},
           "y": {"field": "fraction", "type": "quantitative", "axis": {"orient": "right", "values": [0, 0.2, 0.4, 0.6, 0.8, 1], "tickSize": 8, "labels": false, "title": null}}}},
        {"data": {"name": "series"}, "transform": [{"filter": "datum.panel === 'f'"}], "mark": {"type": "point", "opacity": 0},
         "encoding": {
           "x": {"field": "cth", "type": "quantitative", "axis": {"orient": "top", "ticks": false, "labels": false, "title": "(f)", "titleFontSize": 29, "titleAnchor": "start", "titleAlign": "left", "titleBaseline": "alphabetic", "titlePadding": 13}},
           "y": {"field": "fraction", "type": "quantitative", "axis": {"orient": "right", "values": [-0.1, -0.05, 0.05, 0.1, 0.15, 0.25, 0.3, 0.35, 0.45, 0.5, 0.55, 0.65, 0.7, 0.75, 0.85, 0.9, 0.95], "tickSize": 5, "tickWidth": 1.5, "labels": false, "title": null}}}},
        {"data": {"name": "counts"}, "transform": [{"filter": "datum.panel === 'f'"}],
         "mark": {"type": "text", "align": "left", "baseline": "alphabetic", "fontSize": 30, "font": "DejaVu Sans", "color": "black"},
         "encoding": {"x": {"datum": 2.995, "type": "quantitative", "axis": null}, "y": {"datum": -0.097, "type": "quantitative", "axis": null}, "text": {"field": "mixed"}}},
        {"data": {"name": "counts"}, "transform": [{"filter": "datum.panel === 'f'"}],
         "mark": {"type": "text", "align": "right", "baseline": "alphabetic", "fontSize": 30, "font": "DejaVu Sans", "color": "black"},
         "encoding": {"x": {"datum": 0.838, "type": "quantitative", "axis": null}, "y": {"datum": -0.097, "type": "quantitative", "axis": null}, "text": {"field": "liquid"}}}
      ],
      "resolve": {"axis": {"x": "independent", "y": "independent"}}
    }
  ],
  "config": {
    "font": "DejaVu Sans",
    "view": {"stroke": "black", "strokeWidth": 2},
    "axis": {"domain": false, "grid": false, "tickColor": "black", "tickWidth": 2, "labelFont": "DejaVu Sans", "labelFontSize": 26, "labelColor": "black", "labelOverlap": false, "labelFlush": false, "titleFont": "DejaVu Sans", "titleColor": "black", "titleFontWeight": "normal"},
    "text": {"font": "DejaVu Sans"}
  }
}
